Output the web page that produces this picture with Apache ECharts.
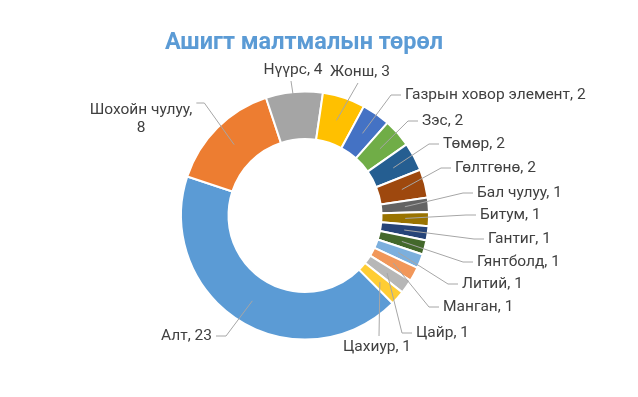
<!DOCTYPE html>
<html>
<head>
<meta charset="utf-8">
<script src="https://cdn.jsdelivr.net/npm/echarts@6/dist/echarts.min.js"></script>
<style>
  html, body { margin: 0; padding: 0; background: #fff; }
  #main { width: 638px; height: 397px; }
</style>
</head>
<body>
<div id="main"></div>
<script>
// data
const names = ['Алт', 'Шохойн чулуу', 'Нүүрс', 'Жонш', 'Газрын ховор элемент', 'Зэс', 'Төмөр', 'Гөлтгөнө',
   'Бал чулуу', 'Битум', 'Гантиг', 'Гянтболд', 'Литий', 'Манган', 'Цайр', 'Цахиур'];
const values = [23, 8, 4, 3, 2, 2, 2, 2, 1, 1, 1, 1, 1, 1, 1, 1];
const colors = ['#5B9BD5', '#ED7D31', '#A5A5A5', '#FFC000', '#4472C4', '#70AD47', '#255E91', '#9E480E',
   '#636363', '#997300', '#264478', '#43682B', '#7CAFDD', '#F1975A', '#B7B7B7', '#FFCD33'];

// where each label sits (x, y, align)
const labelPos = [
   [212, 336, 'right'], [141, 119, 'center'], [293, 70, 'center'], [360, 72, 'center'],
   [405, 95, 'left'], [422, 121, 'left'], [443, 144, 'left'], [455, 168, 'left'],
   [477, 193, 'left'], [480, 215, 'left'], [488, 239, 'left'], [477, 262, 'left'],
   [462, 284, 'left'], [443, 307, 'left'], [416, 333, 'left'], [377, 347, 'center']
];

const cx = 305, cy = 215.5, r0 = 76.5, r1 = 124, startAngle = -45;
const total = values.reduce((x, y) => x + y);

const pieData = names.map((n, i) => ({ name: n, value: values[i], itemStyle: { color: colors[i] } }));

// same slices, invisible, only to carry labels + leader lines above the ring
const labelData = names.map((n, i) => {
   const item = { name: n, value: values[i] };
   if (n === 'Шохойн чулуу') item.label = { formatter: '{b},\n{c}' };
   return item;
});

function midPoint(i) {
   let cum = 0;
   for (let k = 0; k < i; k++) cum += values[k];
   const a = (startAngle - 360 * (cum + values[i] / 2) / total) * Math.PI / 180;
   const rm = (r0 + r1) / 2;
   return [cx + rm * Math.cos(a), cy - rm * Math.sin(a)];
}

const chart = echarts.init(document.getElementById('main'), null, { renderer: 'canvas' });
chart.setOption({
   animation: false,
   title: {
      text: 'Ашигт малтмалын төрөл',
      left: 299,
      top: 26,
      textAlign: 'center',
      textStyle: { fontFamily: 'Roboto', fontSize: 23.5, fontWeight: 'bold', color: '#5B9BD5' }
   },
   series: [
      {
         type: 'pie',
         z: 2,
         center: [cx, cy],
         radius: [r0, r1],
         startAngle: startAngle,
         clockwise: true,
         silent: true,
         itemStyle: { borderColor: '#fff', borderWidth: 2 },
         label: { show: false },
         labelLine: { show: false },
         data: pieData
      },
      {
         type: 'pie',
         z: 5,
         center: [cx, cy],
         radius: [r0, r1],
         startAngle: startAngle,
         clockwise: true,
         silent: true,
         itemStyle: { color: 'rgba(0,0,0,0)', borderWidth: 0 },
         label: {
            show: true,
            position: 'outside',
            formatter: '{b}, {c}',
            fontFamily: 'Roboto',
            fontSize: 15.5,
            color: '#404040',
            lineHeight: 18
         },
         labelLine: { show: true, lineStyle: { color: '#A6A6A6', width: 1 } },
         labelLayout: function (params) {
            const i = params.dataIndex;
            const p = labelPos[i];
            const s = midPoint(i);
            const w = params.labelRect.width, h = params.labelRect.height;
            let pts;
            if (p[2] === 'left') {
               pts = [s, [p[0] - 14, p[1]], [p[0] - 4, p[1]]];
            } else if (p[2] === 'right') {
               pts = [s, [p[0] + 14, p[1]], [p[0] + 4, p[1]]];
            } else if (i === 1) {
               pts = [s, [p[0] + w / 2 + 12, p[1] - 16], [p[0] + w / 2 + 4, p[1] - 16]];
            } else if (p[1] < cy) {
               pts = [s, [p[0] - 2, p[1] + h / 2 + 2]];
            } else {
               pts = [s, [p[0] + 2, p[1] - h / 2 - 2]];
            }
            return { x: p[0], y: p[1], align: p[2], verticalAlign: 'middle', labelLinePoints: pts };
         },
         data: labelData
      }
   ]
});
</script>
</body>
</html>
